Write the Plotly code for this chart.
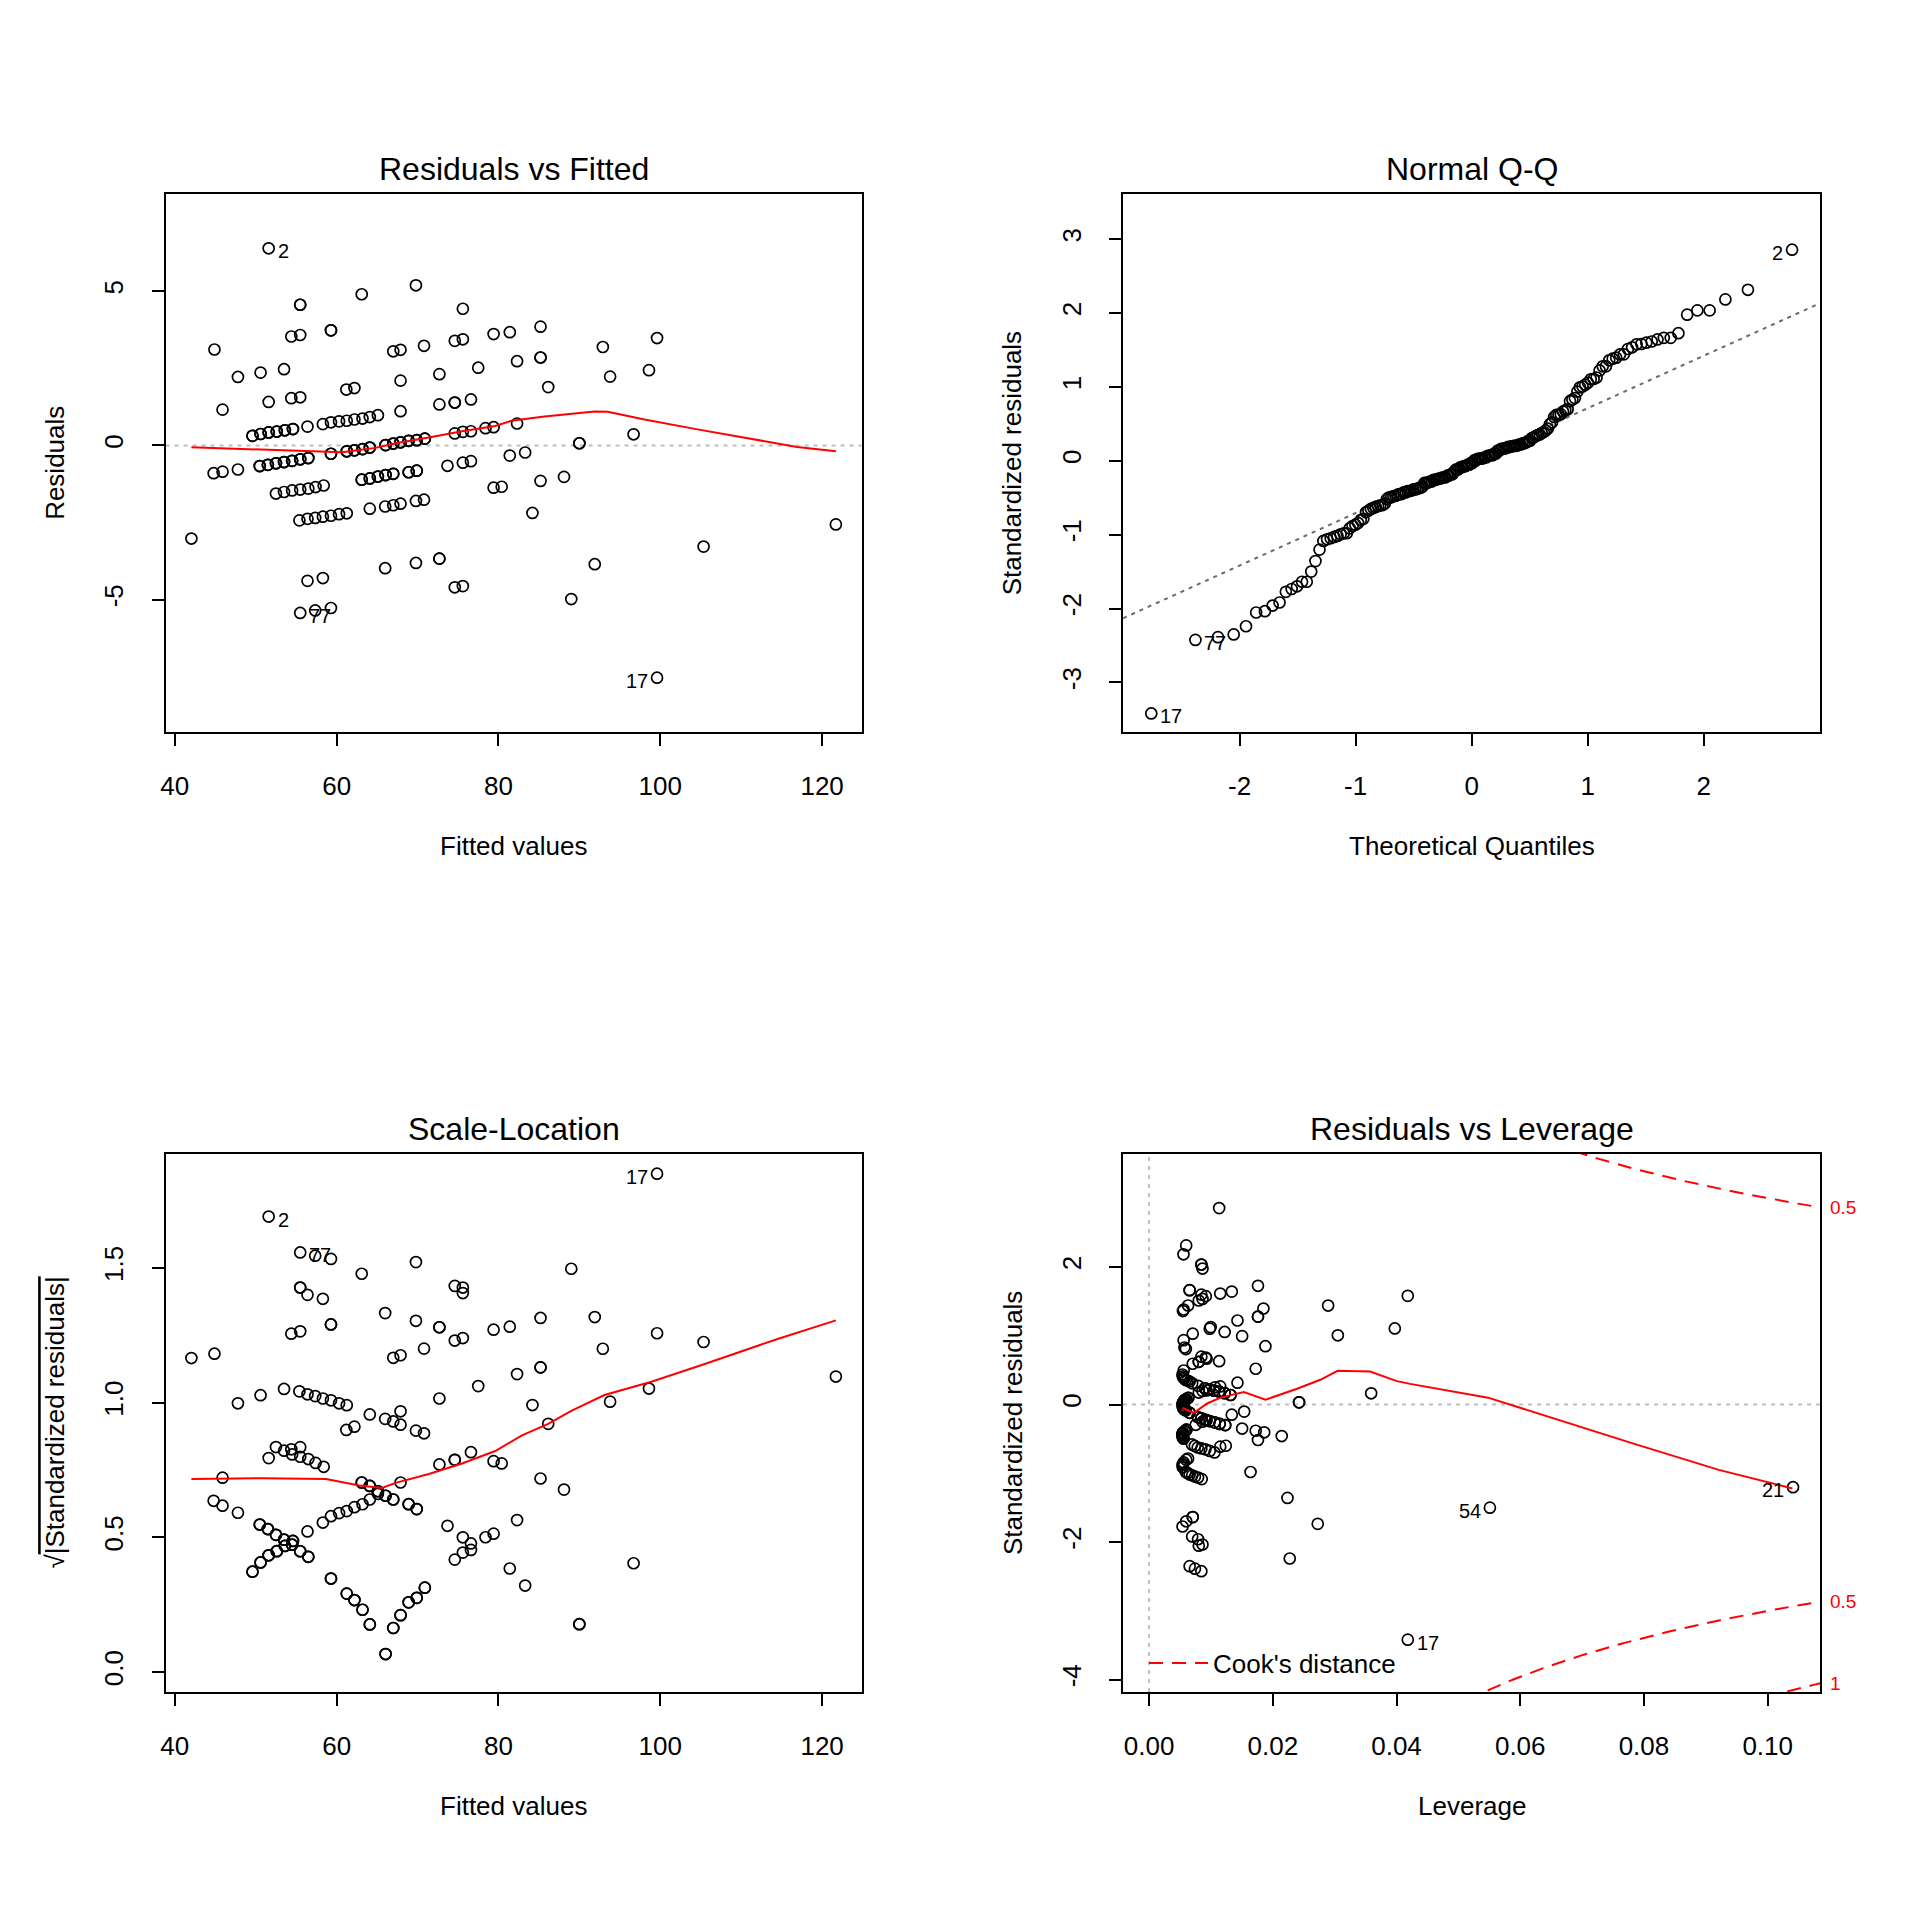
import numpy as np
import plotly.graph_objects as go
from statistics import NormalDist

# ---------------- data ----------------
# first five observations are the labelled ones
obs_ids = ["2", "17", "77", "21", "54"]

fitted = [
    51.6, 99.6, 55.5, 121.7, 105.35,
    55.5, 55.5, 63.1, 69.8, 75.6,
    54.4, 55.5, 59.3, 59.3, 44.9,
    67.0, 67.9, 70.8, 74.6, 75.6,
    79.4, 81.4, 82.3,
    47.8, 50.6, 53.5,
    61.2, 62.2, 67.9, 72.7, 77.5,
    45.9, 51.6, 54.4, 55.5,
    67.9, 72.7, 74.6, 74.6, 76.6,
    49.6, 50.6, 51.6, 52.6, 53.6, 54.6, 56.4,
    58.3, 59.3, 60.3, 61.25, 62.2, 63.2, 64.1, 65.1,
    59.3, 61.25, 62.2, 63.2, 64.1,
    66.05, 67.0, 67.9, 68.9, 69.9, 70.9,
    74.6, 75.6, 76.6, 78.4, 79.4, 82.3,
    44.8, 45.9, 47.8,
    50.5, 51.5, 52.5, 53.5, 54.5, 55.5, 56.5,
    63.1, 64.1, 65.1, 66.05, 67.0, 68.9, 69.9,
    73.7, 75.6, 76.6, 81.4, 83.3,
    52.5, 53.5, 54.5, 55.5, 56.5, 57.4, 58.4,
    79.4, 80.4,
    55.4, 56.4, 57.35, 58.3, 59.3, 60.3, 61.25,
    64.1, 66.0, 67.0, 67.9, 69.8, 70.8,
    42.05, 66.0, 69.8, 72.7, 72.7, 74.6, 75.6,
    56.4, 58.3, 57.35, 59.3,
    85.2, 85.2, 85.2, 86.15, 92.9, 93.8, 99.6, 98.6, 96.7, 90.0, 90.0,
    85.2, 88.1, 84.2, 91.9, 89.0,
]
residuals = [
    6.39, -7.53, -5.43, -2.56, -3.28,
    4.56, 4.56, 4.90, 5.19, 4.43,
    3.53, 3.58, 3.73, 3.73, 3.11,
    3.05, 3.10, 3.23, 3.39, 3.44,
    3.61, 3.67, 2.73,
    2.22, 2.36, 2.47,
    1.81, 1.86, 2.10, 2.31, 2.52,
    1.16, 1.41, 1.53, 1.56,
    1.11, 1.33, 1.39, 1.39, 1.49,
    0.31, 0.37, 0.42, 0.45, 0.49, 0.53, 0.61,
    0.69, 0.75, 0.78, 0.80, 0.84, 0.87, 0.92, 0.98,
    -0.27, -0.19, -0.16, -0.12, -0.07,
    0.01, 0.06, 0.10, 0.15, 0.17, 0.22,
    0.39, 0.44, 0.46, 0.56, 0.59, 0.71,
    -0.90, -0.85, -0.78,
    -0.67, -0.63, -0.58, -0.54, -0.50, -0.45, -0.41,
    -1.11, -1.07, -1.01, -0.96, -0.92, -0.87, -0.82,
    -0.66, -0.56, -0.51, -0.33, -0.23,
    -1.56, -1.51, -1.46, -1.43, -1.40, -1.35, -1.30,
    -1.37, -1.34,
    -2.43, -2.38, -2.35, -2.31, -2.28, -2.23, -2.20,
    -2.05, -1.98, -1.94, -1.89, -1.80, -1.76,
    -3.02, -3.98, -3.81, -3.67, -3.67, -4.60, -4.56,
    -4.39, -4.30, -5.35, -5.27,
    3.85, 2.85, 2.85, 1.89, 3.19, 2.23, 3.48, 2.44, 0.36, 0.07, 0.07,
    -1.15, -1.02, -2.19, -3.85, -4.98,
]
# observations hidden under identical circles in the dense central streaks
# (their presence is visible only in the Normal Q-Q panel)
hidden_fitted = [
    49.6, 50.6, 51.6, 52.6, 53.6, 54.6,
    59.3, 61.25, 62.2, 63.2, 64.1, 66.05, 67.0, 67.9, 68.9, 69.9, 70.9,
    50.5, 51.5, 52.5, 53.5, 54.5, 55.5, 56.5,
    63.1, 64.1, 65.1, 66.05, 67.0, 68.9, 69.9,
]
hidden_residuals = [
    0.31, 0.37, 0.42, 0.45, 0.49, 0.53,
    -0.27, -0.19, -0.16, -0.12, -0.07, 0.01, 0.06, 0.10, 0.15, 0.17, 0.22,
    -0.67, -0.63, -0.58, -0.54, -0.50, -0.45, -0.41,
    -1.11, -1.07, -1.01, -0.96, -0.92, -0.87, -0.82,
]
assert len(fitted) == len(residuals)
assert len(hidden_fitted) == len(hidden_residuals)

# model constants
sigma = 2.25          # residual standard error
lev_min = 0.0054      # 1/n
fit_mean = 65.4       # mean fitted value
fit_ss = 32115.0      # sum of squares of fitted values about the mean
n_param = 2
cook_levels = [0.5, 1.0]

# smoother curves (red lines)
rvf_smooth_x = [42.05, 50.9, 58.7, 60.7, 64.8, 67.3, 71.4, 75.5, 79.6, 81.6, 85.7, 91.9, 93.5, 98.05, 104.6, 110.4, 116.9, 121.7]
rvf_smooth_y = [-0.06, -0.14, -0.22, -0.22, -0.08, 0.07, 0.26, 0.46, 0.63, 0.80, 0.94, 1.10, 1.09, 0.84, 0.52, 0.24, -0.05, -0.19]
sl_smooth_x = [42.05, 50.9, 58.7, 62.8, 65.6, 67.3, 71.4, 75.5, 79.6, 82.9, 86.15, 89.0, 93.1, 98.9, 105.4, 114.5, 121.7]
sl_smooth_y = [0.716, 0.719, 0.716, 0.692, 0.683, 0.702, 0.735, 0.774, 0.82, 0.878, 0.921, 0.969, 1.028, 1.077, 1.142, 1.236, 1.305]
lev_smooth_x = [0.00538, 0.00726, 0.0094, 0.01156, 0.01532, 0.01882, 0.02392, 0.02769, 0.03048, 0.03575, 0.04005, 0.0422, 0.0548, 0.0583, 0.0653, 0.0787, 0.0921, 0.1040]
lev_smooth_y = [-0.05, -0.12, 0.015, 0.10, 0.18, 0.07, 0.23, 0.36, 0.49, 0.48, 0.34, 0.30, 0.10, 0.0, -0.205, -0.58, -0.95, -1.22]

# axis ranges / ticks
rvf_xrange = [38.86, 124.9]
rvf_yrange = [-9.29, 8.15]
qq_xrange = [-3.005, 3.005]
qq_yrange = [-3.67, 3.61]
sl_yrange = [-0.074, 1.924]
lev_xrange = [-0.0042, 0.1085]
lev_yrange = [-4.18, 3.65]

fit_ticks = [40, 60, 80, 100, 120]
rvf_yticks = [-5, 0, 5]
qq_xticks = [-2, -1, 0, 1, 2]
qq_yticks = [-3, -2, -1, 0, 1, 2, 3]
sl_yticks = [0.0, 0.5, 1.0, 1.5]
lev_xticks = [0.00, 0.02, 0.04, 0.06, 0.08, 0.10]
lev_yticks = [-4, -2, 0, 2]

# ---------------- derived quantities (as in R's plot.lm) ----------------
f = np.array(fitted + hidden_fitted)
r = np.array(residuals + hidden_residuals)
n = len(f)
lev = lev_min + (f - fit_mean) ** 2 / fit_ss
rs = r / (sigma * np.sqrt(1 - lev))
sqrt_abs = np.sqrt(np.abs(rs))

order = np.argsort(rs, kind="stable")
probs = (np.arange(1, n + 1) - 0.5) / n
theo_sorted = np.array([NormalDist().inv_cdf(p) for p in probs])
theo = np.empty(n)
theo[order] = theo_sorted
q1, q3 = np.percentile(rs, [25, 75])
z1, z3 = NormalDist().inv_cdf(0.25), NormalDist().inv_cdf(0.75)
qq_slope = (q3 - q1) / (z3 - z1)
qq_int = q1 - qq_slope * z1

# ---------------- figure ----------------
FONT = "Liberation Sans, Arial, Helvetica, sans-serif"
W = H = 1920
LX = [161 / W, 859 / W]
RX = [1121 / W, 1820 / W]
TY = [1 - 732 / H, 1 - 194 / H]
BY = [1 - 1692 / H, 1 - 1153.5 / H]

marker = dict(symbol="circle-open", size=11, color="black", line=dict(width=1.7, color="black"))
fig = go.Figure()


def pts(x, y, ax):
    fig.add_trace(go.Scatter(x=x, y=y, mode="markers", marker=marker, showlegend=False,
                             xaxis="x" + ax, yaxis="y" + ax, hoverinfo="skip"))


def line(x, y, ax, color="red", width=2, dash="solid", showlegend=False, name=None):
    fig.add_trace(go.Scatter(x=x, y=y, mode="lines", line=dict(color=color, width=width, dash=dash),
                             showlegend=showlegend, name=name, xaxis="x" + ax, yaxis="y" + ax,
                             hoverinfo="skip"))


# Panel 1: residuals vs fitted
line(rvf_xrange, [0, 0], "", color="#BEBEBE", width=2, dash="4px,5px")
pts(f, r, "")
line(rvf_smooth_x, rvf_smooth_y, "")

# Panel 2: normal Q-Q
line(qq_xrange, [qq_int + qq_slope * qq_xrange[0], qq_int + qq_slope * qq_xrange[1]], "2",
     color="#6A6A6A", width=2, dash="4px,5px")
pts(theo, rs, "2")

# Panel 3: scale-location
pts(f, sqrt_abs, "3")
line(sl_smooth_x, sl_smooth_y, "3")

# Panel 4: residuals vs leverage
line(lev_xrange, [0, 0], "4", color="#BEBEBE", width=2, dash="4px,5px")
line([0, 0], lev_yrange, "4", color="#BEBEBE", width=2, dash="4px,5px")
pts(lev, rs, "4")
line(lev_smooth_x, lev_smooth_y, "4")
hh = np.linspace(0.001, lev_xrange[1], 300)
first = True
for lvl in cook_levels:
    cy = np.sqrt(lvl * n_param * (1 - hh) / hh)
    for sgn in (1, -1):
        line(hh, sgn * cy, "4", color="red", width=2, dash="14px,9px",
             showlegend=first, name="Cook's distance")
        first = False

ann = []


def label(x, y, text, ax, side):
    ann.append(dict(x=x, y=y, xref="x" + ax, yref="y" + ax, text=text, showarrow=False,
                    xanchor="left" if side == "r" else "right",
                    xshift=7 if side == "r" else -7, yshift=-3,
                    font=dict(size=20, color="black", family=FONT)))


# label sides: right if in left half of x-range, else left
for i, oid in enumerate(obs_ids):
    if oid in ("2", "17", "77"):
        label(f[i], r[i], oid, "", "r" if f[i] < np.mean(rvf_xrange) else "l")
        label(theo[i], rs[i], oid, "2", "r" if theo[i] < 0 else "l")
        label(f[i], sqrt_abs[i], oid, "3", "r" if f[i] < np.mean(rvf_xrange) else "l")
    if oid in ("17", "54", "21"):
        label(lev[i], rs[i], oid, "4", "r" if lev[i] < np.mean(lev_xrange) else "l")

# Cook's distance level labels at right edge
xmax = lev_xrange[1]
for lvl in cook_levels:
    v = np.sqrt(lvl * n_param * (1 - xmax) / xmax)
    for sgn in (1, -1):
        yv = sgn * v
        if lev_yrange[0] <= yv <= lev_yrange[1]:
            ann.append(dict(x=1828 / W, y=yv, xref="paper", yref="y4", text=f"{lvl:g}",
                            showarrow=False, xanchor="left", yanchor="middle",
                            font=dict(size=19, color="red", family=FONT)))


def ptext(x, y, text, size, angle=0):
    ann.append(dict(x=x, y=y, xref="paper", yref="paper", text=text, showarrow=False,
                    xanchor="center", yanchor="middle", textangle=angle,
                    font=dict(size=size, color="black", family=FONT)))


lc, rc = sum(LX) / 2, sum(RX) / 2
ptext(lc, 1 - 169 / H, "Residuals vs Fitted", 32)
ptext(rc, 1 - 169 / H, "Normal Q-Q", 32)
ptext(lc, 1 - 1129 / H, "Scale-Location", 32)
ptext(rc, 1 - 1129 / H, "Residuals vs Leverage", 32)
ptext(lc, 1 - 846 / H, "Fitted values", 26)
ptext(rc, 1 - 846 / H, "Theoretical Quantiles", 26)
ptext(lc, 1 - 1806 / H, "Fitted values", 26)
ptext(rc, 1 - 1806 / H, "Leverage", 26)
ty, by = sum(TY) / 2, sum(BY) / 2
ptext(50 / W, ty, "Residuals", 26, -90)
ptext(1010 / W, ty, "Standardized residuals", 26, -90)
ptext(50 / W, by, '√<span style="text-decoration:overline">|Standardized residuals|</span>', 26, -90)
ptext(1010 / W, by, "Standardized residuals", 26, -90)


def fmt(v, d):
    return f"{v:.{d}f}".replace("−", "-")


def axis(domain, rng, ticks, dec, anchor, is_y):
    d = dict(domain=domain, range=rng, tickmode="array", tickvals=ticks,
             ticktext=[fmt(t, dec) for t in ticks], showline=True, mirror=True,
             linecolor="black", linewidth=2, ticks="outside", ticklen=12, tickwidth=2,
             tickcolor="black", showgrid=False, zeroline=False, anchor=anchor,
             tickfont=dict(size=26, color="black", family=FONT), ticklabelstandoff=18)
    if is_y:
        d["tickangle"] = -90
    return d


fig.update_layout(
    width=W, height=H, margin=dict(l=0, r=0, t=0, b=0),
    paper_bgcolor="white", plot_bgcolor="white",
    font=dict(family=FONT, color="black"),
    xaxis=axis(LX, rvf_xrange, fit_ticks, 0, "y", False),
    yaxis=axis(TY, rvf_yrange, rvf_yticks, 0, "x", True),
    xaxis2=axis(RX, qq_xrange, qq_xticks, 0, "y2", False),
    yaxis2=axis(TY, qq_yrange, qq_yticks, 0, "x2", True),
    xaxis3=axis(LX, rvf_xrange, fit_ticks, 0, "y3", False),
    yaxis3=axis(BY, sl_yrange, sl_yticks, 1, "x3", True),
    xaxis4=axis(RX, lev_xrange, lev_xticks, 2, "y4", False),
    yaxis4=axis(BY, lev_yrange, lev_yticks, 0, "x4", True),
    annotations=ann,
    legend=dict(x=1142 / W, y=1 - 1663 / H, xanchor="left", yanchor="middle",
                font=dict(size=26, color="black", family=FONT), bgcolor="rgba(0,0,0,0)",
                borderwidth=0, itemwidth=59),
)

fig.write_html("out.html", config={"displayModeBar": False, "staticPlot": True},
               post_script="document.body.style.margin='0px';")
